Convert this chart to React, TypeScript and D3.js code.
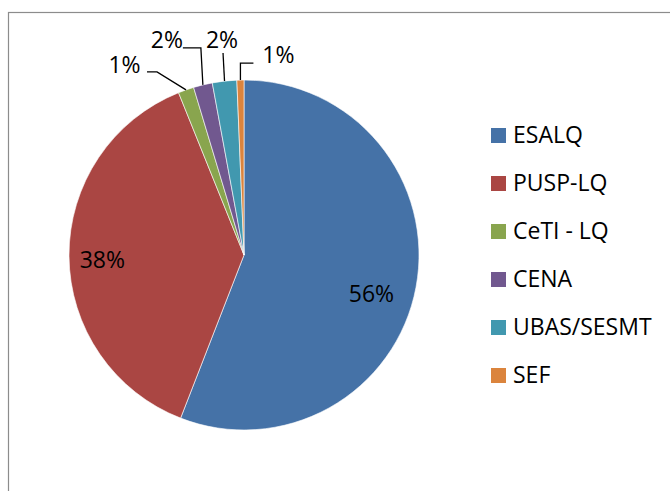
import React from "react";
import * as d3 from "d3";

const categories = ["ESALQ", "PUSP-LQ", "CeTI - LQ", "CENA", "UBAS/SESMT", "SEF"];
const values = [55.9, 38.0, 1.45, 1.75, 2.25, 0.65];
const colors = ["#4572A7", "#AA4643", "#89A54E", "#71588F", "#4198AF", "#DB843D"];

const W = 670;
const H = 491;
const FONT = "'Open Sans', sans-serif";
const FS = 23;

// layout
const cx = 244;
const cy = 255;
const R = 175;
// label placement: inside (radius factor + angle nudge) or outside (leader offsets from rim point)
type LabelSpec =
  | { kind: "in"; rf: number; dAng: number }
  | { kind: "out"; pts: [number, number][]; text: [number, number] };
const labelSpecs: LabelSpec[] = [
  { kind: "in", rf: 0.76, dAng: 6 },
  { kind: "in", rf: 0.81, dAng: -1.2 },
  { kind: "out", pts: [[-29, -18], [-39, -18]], text: [-61.5, -17] },
  { kind: "out", pts: [[-2, -37], [-20, -37]], text: [-36, -37] },
  { kind: "out", pts: [[-1.5, -28]], text: [-2.5, -33] },
  { kind: "out", pts: [[0, -17], [13, -17]], text: [38, -17] },
];

export default function App() {
  const pie = d3.pie<number>().sort(null).value((d) => d);
  const arcs = pie(values);
  const arcGen = d3.arc<d3.PieArcDatum<number>>().innerRadius(0).outerRadius(R);

  return (
    <svg
      width={W}
      height={H}
      style={{ position: "absolute", left: 0, top: 0, background: "#fff" }}
    >
      <rect x={8.5} y={12.5} width={W} height={H} fill="#fff" stroke="#8c8c8c" strokeWidth={1.2} />
      <g transform={`translate(${cx},${cy})`}>
        {arcs.map((a, i) => (
          <path key={i} d={arcGen(a) || ""} fill={colors[i]} stroke="#fff" strokeWidth={0.6} />
        ))}
        {arcs.map((a, i) => {
          const spec = labelSpecs[i];
          const mid = (a.startAngle + a.endAngle) / 2;
          const label = `${Math.round(values[i])}%`;
          if (spec.kind === "in") {
            const ang = mid + (spec.dAng * Math.PI) / 180;
            const r = R * spec.rf;
            const x = r * Math.sin(ang);
            const y = -r * Math.cos(ang);
            return (
              <text
                key={"l" + i}
                x={x}
                y={y}
                textAnchor="middle"
                dominantBaseline="central"
                fontFamily={FONT}
                fontSize={FS}
                fill="#000"
              >
                {label}
              </text>
            );
          }
          const rx = R * Math.sin(mid);
          const ry = -R * Math.cos(mid);
          const line = d3.line()([[rx, ry], ...spec.pts.map(([dx, dy]) => [rx + dx, ry + dy] as [number, number])]);
          return (
            <g key={"l" + i}>
              <path d={line || ""} fill="none" stroke="#000" strokeWidth={1.3} />
              <text
                x={rx + spec.text[0]}
                y={ry + spec.text[1]}
                textAnchor="middle"
                fontFamily={FONT}
                fontSize={FS}
                fill="#000"
              >
                {label}
              </text>
            </g>
          );
        })}
      </g>
      <g>
        {categories.map((c, i) => (
          <g key={c} transform={`translate(491,${128 + i * 48})`}>
            <rect x={0} y={0} width={15} height={15} fill={colors[i]} />
            <text x={22} y={15} fontFamily={FONT} fontSize={FS} fill="#000">
              {c}
            </text>
          </g>
        ))}
      </g>
    </svg>
  );
}
